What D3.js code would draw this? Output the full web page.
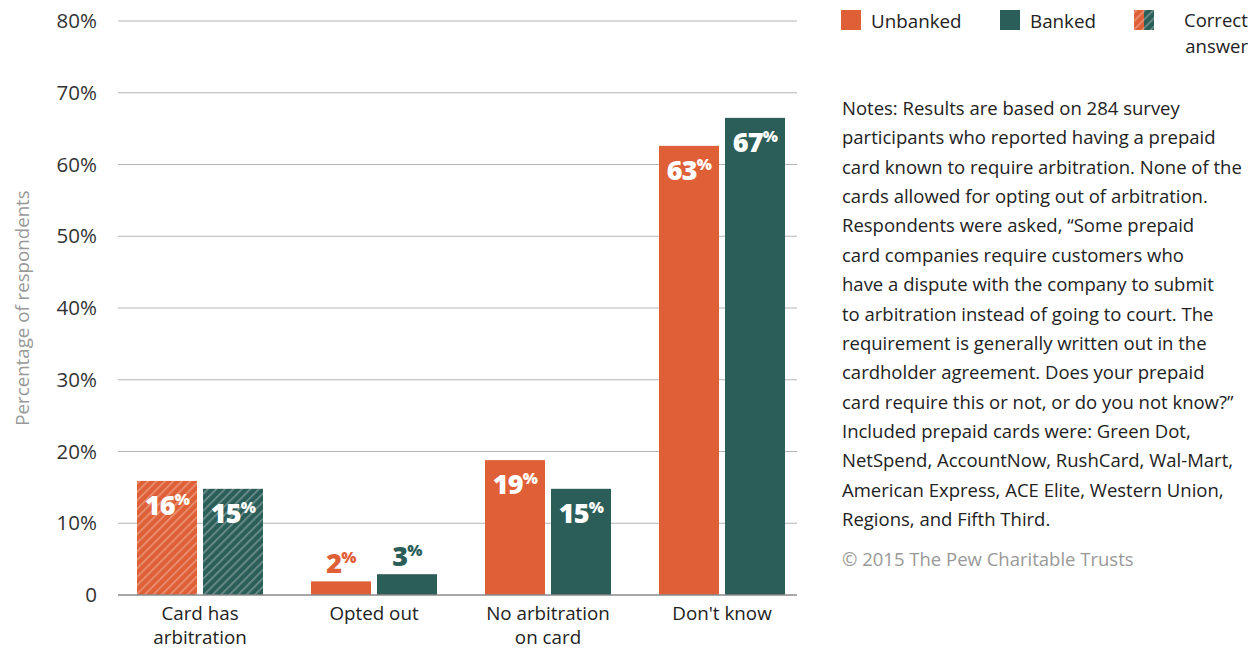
<!DOCTYPE html>
<html>
<head>
<meta charset="utf-8">
<script src="https://cdn.jsdelivr.net/npm/d3@7"></script>
<style>
  html, body { margin: 0; padding: 0; background: #fff; }
  svg { display: block; font-family: "Open Sans", Lato, sans-serif; }
</style>
</head>
<body>
<svg id="chart" width="1260" height="649"></svg>
<script>
// ---- data ----
const categories = [["Card has", "arbitration"], ["Opted out"], ["No arbitration", "on card"], ["Don't know"]];
const seriesNames = ["Unbanked", "Banked"];
const unbanked = [15.9, 1.9, 18.8, 62.6];
const banked = [14.8, 2.9, 14.8, 66.5];
const unbankedLabels = [16, 2, 19, 63];
const bankedLabels = [15, 3, 15, 67];
const correctAnswer = [true, false, false, false];
const yTicks = [0, 10, 20, 30, 40, 50, 60, 70, 80];
const yTickLabels = ["0", "10%", "20%", "30%", "40%", "50%", "60%", "70%", "80%"];
const notes = [
  "Notes: Results are based on 284 survey",
  "participants who reported having a prepaid",
  "card known to require arbitration. None of the",
  "cards allowed for opting out of arbitration.",
  "Respondents were asked, \u201cSome prepaid",
  "card companies require customers who",
  "have a dispute with the company to submit",
  "to arbitration instead of going to court. The",
  "requirement is generally written out in the",
  "cardholder agreement. Does your prepaid",
  "card require this or not, or do you not know?\u201d",
  "Included prepaid cards were: Green Dot,",
  "NetSpend, AccountNow, RushCard, Wal-Mart,",
  "American Express, ACE Elite, Western Union,",
  "Regions, and Fifth Third."
];
const copyright = "\u00a9 2015 The Pew Charitable Trusts";

// ---- styles ----
const colors = { Unbanked: "#DF6037", Banked: "#2C5E59" };
const svg = d3.select("#chart");

// patterns
const defs = svg.append("defs");
seriesNames.forEach(name => {
  const p = defs.append("pattern")
    .attr("id", "hatch-" + name)
    .attr("patternUnits", "userSpaceOnUse")
    .attr("width", 6).attr("height", 6)
    .attr("patternTransform", "rotate(45)");
  p.append("rect").attr("width", 6).attr("height", 6).attr("fill", colors[name]);
  p.append("rect").attr("x", 0).attr("width", 1.6).attr("height", 6)
    .attr("fill", "#fff").attr("fill-opacity", 0.32);
});

const x = d3.scaleBand().domain(d3.range(categories.length)).range([113, 809]).paddingInner(0).paddingOuter(0);
const y = d3.scaleLinear().domain([0, 80]).range([595, 21]);
const barW = 60, gap = 6;

// gridlines
const grid = svg.append("g");
grid.selectAll("line").data(yTicks.filter(d => d > 0)).join("line")
  .attr("x1", 118).attr("x2", 797)
  .attr("y1", d => y(d)).attr("y2", d => y(d))
  .attr("stroke", "#b5b5b5").attr("stroke-width", 1);

// y tick labels
svg.append("g").selectAll("text").data(yTicks).join("text")
  .attr("x", 97).attr("y", d => y(d)).attr("dy", "0.35em")
  .attr("text-anchor", "end").attr("font-size", 20.5).attr("fill", "#333")
  .text((d, i) => yTickLabels[i]);

// y-axis title
svg.append("text")
  .attr("transform", `translate(29,308) rotate(-90)`)
  .attr("text-anchor", "middle").attr("font-size", 18.7).attr("fill", "#999")
  .text("Percentage of respondents");

// bars
const rows = [];
categories.forEach((c, i) => {
  [[unbanked, unbankedLabels, "Unbanked", 0], [banked, bankedLabels, "Banked", 1]].forEach(([vals, labs, name, k]) => {
    rows.push({ i, name, k, v: vals[i], lab: labs[i], hatch: correctAnswer[i] });
  });
});
const cx = i => x(i) + x.bandwidth() / 2;
const bx = d => cx(d.i) + (d.k === 0 ? -gap / 2 - barW : gap / 2);

svg.append("g").selectAll("rect").data(rows).join("rect")
  .attr("x", bx).attr("width", barW)
  .attr("y", d => y(d.v)).attr("height", d => y(0) - y(d.v))
  .attr("fill", d => d.hatch ? `url(#hatch-${d.name})` : colors[d.name]);

// baseline
svg.append("line").attr("x1", 118).attr("x2", 797).attr("y1", y(0)).attr("y2", y(0))
  .attr("stroke", "#8a8a8a").attr("stroke-width", 1.5);

// value labels
const lab = svg.append("g").selectAll("text").data(rows).join("text")
  .attr("x", d => bx(d) + barW / 2)
  .attr("y", d => d.v > 8 ? y(d.v) + 34 : y(d.v) - 8)
  .attr("text-anchor", "middle")
  .attr("font-weight", 800).attr("font-size", 27)
  .attr("letter-spacing", -0.8)
  .attr("fill", d => d.v > 8 ? "#fff" : colors[d.name]);
lab.append("tspan").text(d => d.lab);
lab.append("tspan").attr("font-size", 16).attr("dy", -10).text("%");

// x labels
svg.append("g").selectAll("text").data(categories).join("text")
  .attr("text-anchor", "middle").attr("font-size", 18.8).attr("fill", "#222")
  .each(function (d, i) {
    d3.select(this).selectAll("tspan").data(d).join("tspan")
      .attr("x", cx(i)).attr("y", (t, j) => 620 + j * 24).text(t => t);
  });

// legend
const lg = svg.append("g");
lg.append("rect").attr("x", 841).attr("y", 10).attr("width", 20).attr("height", 20).attr("fill", colors.Unbanked);
lg.append("text").attr("x", 871).attr("y", 28).attr("font-size", 18.8).attr("fill", "#222").text("Unbanked");
lg.append("rect").attr("x", 1000).attr("y", 10).attr("width", 20).attr("height", 20).attr("fill", colors.Banked);
lg.append("text").attr("x", 1030).attr("y", 28).attr("font-size", 18.8).attr("fill", "#222").text("Banked");
lg.append("rect").attr("x", 1134).attr("y", 10).attr("width", 10).attr("height", 20).attr("fill", "url(#hatch-Unbanked)");
lg.append("rect").attr("x", 1144).attr("y", 10).attr("width", 10).attr("height", 20).attr("fill", "url(#hatch-Banked)");
lg.append("text").attr("x", 1184).attr("y", 27).attr("font-size", 18.5).attr("fill", "#222").text("Correct");
lg.append("text").attr("x", 1248).attr("y", 53).attr("text-anchor", "end").attr("font-size", 18.5).attr("fill", "#222").text("answer");

// notes
svg.append("g").selectAll("text").data(notes).join("text")
  .attr("x", 842).attr("y", (d, i) => 115 + i * 29.36)
  .attr("font-size", 18.5).attr("fill", "#222").text(d => d);

svg.append("text").attr("x", 842).attr("y", 566).attr("font-size", 18.5).attr("fill", "#999").text(copyright);
</script>
</body>
</html>
